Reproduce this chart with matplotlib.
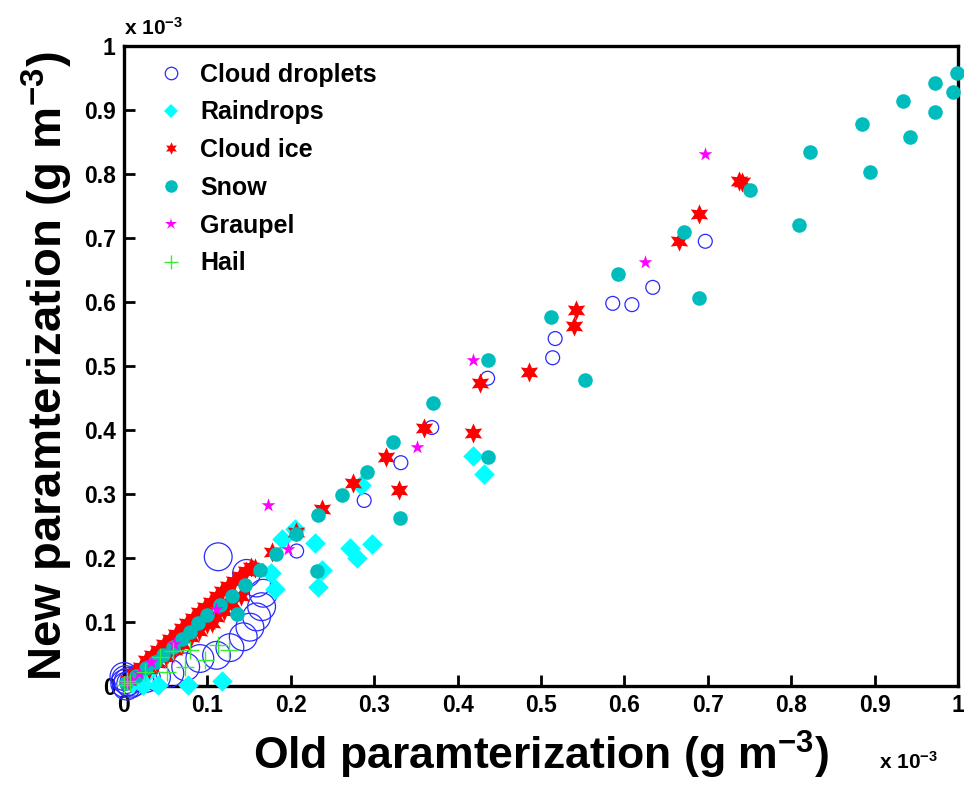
import numpy as np
import matplotlib
matplotlib.use("Agg")
import matplotlib.pyplot as plt
from matplotlib.lines import Line2D

plt.rcParams['font.family'] = ['Liberation Sans', 'DejaVu Sans']
plt.rcParams['font.weight'] = 'bold'
plt.rcParams['mathtext.fontset'] = 'custom'
plt.rcParams['mathtext.rm'] = 'Liberation Sans:bold'
plt.rcParams['mathtext.bf'] = 'Liberation Sans:bold'
plt.rcParams['mathtext.default'] = 'bf'

# mixing ratios, in units of 1e-3 g m^-3 (old scheme, new scheme)
droplet_old = [0.697, 0.634, 0.586, 0.609, 0.517, 0.514, 0.436, 0.369, 0.332, 0.288, 0.207,
               0.113, 0.147, 0.159, 0.167, 0.165, 0.159, 0.151, 0.143, 0.127, 0.111, 0.091,
               0.074, 0.055, 0.039, 0.027, 0.019,
               0.001, 0.002, 0.005, 0.000, 0.008, 0.012, 0.003]
droplet_new = [0.695, 0.623, 0.598, 0.596, 0.543, 0.513, 0.481, 0.404, 0.349, 0.290, 0.211,
               0.202, 0.176, 0.161, 0.145, 0.124, 0.108, 0.092, 0.077, 0.060, 0.048, 0.043,
               0.030, 0.020, 0.014, 0.012, 0.013,
               0.004, 0.010, 0.007, 0.015, 0.003, 0.006, 0.000]

rain_old = [0.418, 0.432, 0.284, 0.297, 0.271, 0.279, 0.229, 0.237, 0.233, 0.205, 0.190,
            0.176, 0.181, 0.118, 0.077, 0.041, 0.023, 0.010, 0.029, 0.052]
rain_new = [0.360, 0.331, 0.314, 0.222, 0.216, 0.200, 0.223, 0.181, 0.155, 0.246, 0.229,
            0.176, 0.151, 0.008, 0.002, 0.001, 0.002, 0.004, 0.022, 0.050]

ice_old = [0.741, 0.737, 0.689, 0.665, 0.542, 0.539, 0.486, 0.427, 0.418, 0.360, 0.314,
           0.330, 0.274, 0.238, 0.206, 0.177, 0.157,
           0.005, 0.012, 0.020, 0.027, 0.034, 0.041, 0.048, 0.055, 0.062, 0.069, 0.076,
           0.083, 0.090, 0.097, 0.104, 0.111, 0.118, 0.125, 0.132, 0.139, 0.146, 0.152,
           0.030, 0.040, 0.050, 0.060, 0.070, 0.080, 0.090, 0.100, 0.110, 0.120, 0.130,
           0.140, 0.105]
ice_new = [0.787, 0.789, 0.738, 0.696, 0.588, 0.5625, 0.490, 0.474, 0.396, 0.404, 0.358,
           0.307, 0.318, 0.277, 0.241, 0.209, 0.185,
           0.010, 0.020, 0.030, 0.040, 0.049, 0.057, 0.066, 0.074, 0.082, 0.091, 0.099,
           0.107, 0.115, 0.123, 0.132, 0.140, 0.149, 0.156, 0.164, 0.172, 0.180, 0.186,
           0.026, 0.036, 0.046, 0.056, 0.066, 0.077, 0.086, 0.097, 0.108, 0.118, 0.129,
           0.140, 0.098]

snow_old = [0.999, 0.972, 0.994, 0.934, 0.972, 0.885, 0.942, 0.823, 0.894, 0.750, 0.809,
            0.671, 0.690, 0.592, 0.512, 0.553, 0.436, 0.436, 0.370, 0.323, 0.331, 0.291,
            0.261, 0.233, 0.231, 0.206, 0.182,
            0.163, 0.145, 0.129, 0.115, 0.100, 0.089, 0.079, 0.069, 0.059, 0.047, 0.037,
            0.027, 0.015, 0.003, 0.136]
snow_new = [0.958, 0.942, 0.929, 0.914, 0.897, 0.879, 0.858, 0.834, 0.804, 0.775, 0.721,
            0.710, 0.607, 0.644, 0.577, 0.479, 0.510, 0.358, 0.443, 0.382, 0.263, 0.334,
            0.298, 0.267, 0.179, 0.238, 0.207,
            0.181, 0.158, 0.141, 0.127, 0.111, 0.098, 0.085, 0.074, 0.061, 0.048, 0.038,
            0.028, 0.015, 0.004, 0.113]

graupel_old = [0.697, 0.625, 0.418, 0.351, 0.173, 0.197, 0.110, 0.060, 0.033, 0.018, 0.008, 0.002]
graupel_new = [0.831, 0.6625, 0.510, 0.374, 0.283, 0.2135, 0.121, 0.066, 0.037, 0.020, 0.010, 0.003]

hail_old = [0.000, 0.007, 0.025, 0.043, 0.051, 0.059, 0.073, 0.079, 0.097, 0.113, 0.126, 0.004]
hail_new = [0.002, 0.004, 0.022, 0.046, 0.022, 0.054, 0.030, 0.056, 0.041, 0.064, 0.056, 0.008]

labels = ['Cloud droplets', 'Raindrops', 'Cloud ice', 'Snow', 'Graupel', 'Hail']
ticks = [0, 0.1, 0.2, 0.3, 0.4, 0.5, 0.6, 0.7, 0.8, 0.9, 1]
tick_labels = ['0', '0.1', '0.2', '0.3', '0.4', '0.5', '0.6', '0.7', '0.8', '0.9', '1']

blue = '#2a2aff'
cyan = '#00ffff'
red = '#ff0000'
teal = '#00bdbd'
magenta = '#ff00ff'
green = '#33ee33'
hexagram = (6, 1, 0)

fig = plt.figure(figsize=(9.64, 7.91), dpi=100)
ax = fig.add_axes([0.1286, 0.1327, 0.8652, 0.809])

d_old = np.array(droplet_old)
d_size = np.where(d_old < 0.19, 400, 100)
ax.scatter(d_old, droplet_new, s=d_size, facecolors='none', edgecolors=blue,
           linewidths=0.9, clip_on=False, zorder=3)
ax.scatter(rain_old, rain_new, s=110, marker='D', color=cyan, linewidths=0,
           clip_on=False, zorder=3)
ax.scatter(ice_old, ice_new, s=210, marker=hexagram, color=red, linewidths=0,
           clip_on=False, zorder=3)
ax.scatter(snow_old, snow_new, s=110, marker='o', color=teal, linewidths=0,
           clip_on=False, zorder=3)
ax.scatter(graupel_old, graupel_new, s=110, marker='*', color=magenta, linewidths=0,
           clip_on=False, zorder=3)
ax.scatter(hail_old, hail_new, s=170, marker='+', color=green, linewidths=1.0,
           clip_on=False, zorder=3)

ax.set_xlim(0, 1)
ax.set_ylim(0, 1)
ax.set_xticks(ticks)
ax.set_xticklabels(tick_labels)
ax.set_yticks(ticks)
ax.set_yticklabels(tick_labels)
ax.tick_params(direction='in', length=8, width=2, labelsize=16.5, pad=6)
for lab in ax.get_xticklabels() + ax.get_yticklabels():
    lab.set_fontweight('bold')
for sp in ax.spines.values():
    sp.set_linewidth(2.4)

ax.set_xlabel('Old paramterization (g m$^{-3}$)', fontsize=32,
              fontweight='bold', labelpad=8)
ax.set_ylabel('New paramterization (g m$^{-3}$)', fontsize=34,
              fontweight='bold', labelpad=6)

# exponent markers, placed as the plotting software does
ax.text(0.0, 1.012, 'x 10$^{-3}$', transform=ax.transAxes, fontsize=15,
        fontweight='bold', ha='left', va='bottom')
ax.text(0.905, -0.135, 'x 10$^{-3}$', transform=ax.transAxes, fontsize=15,
        fontweight='bold', ha='left', va='bottom')

handles = [
    Line2D([], [], ls='none', marker='o', markersize=9, markerfacecolor='none',
           markeredgecolor=blue, markeredgewidth=0.9),
    Line2D([], [], ls='none', marker='D', markersize=7, color=cyan, markeredgewidth=0),
    Line2D([], [], ls='none', marker=hexagram, markersize=9, color=red, markeredgewidth=0),
    Line2D([], [], ls='none', marker='o', markersize=9, color=teal, markeredgewidth=0),
    Line2D([], [], ls='none', marker='*', markersize=9, color=magenta, markeredgewidth=0),
    Line2D([], [], ls='none', marker='+', markersize=10, color=green, markeredgewidth=1),
]
leg = ax.legend(handles, labels, loc='upper left', bbox_to_anchor=(0.03, 0.99),
                frameon=False, prop={'size': 18, 'weight': 'bold'},
                handlelength=1.0, handletextpad=0.65, labelspacing=0.55,
                borderaxespad=0)

fig.savefig('out.png', dpi=100)
